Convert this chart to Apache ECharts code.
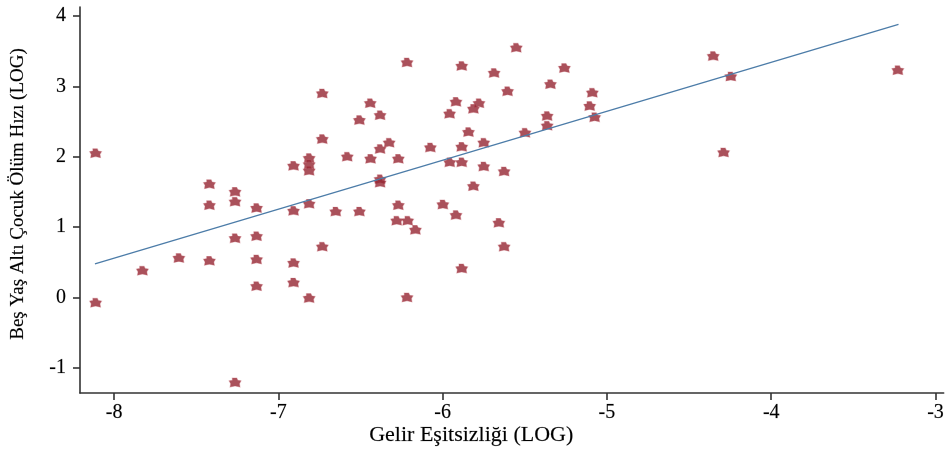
<!DOCTYPE html>
<html>
<head>
<meta charset="utf-8">
<script src="https://cdn.jsdelivr.net/npm/echarts@6/dist/echarts.min.js"></script>
<style>
html,body{margin:0;padding:0;background:#fff;}
#chart{width:947px;height:451px;}
</style>
</head>
<body>
<div id="chart"></div>
<script>
// Gelir Eşitsizliği (LOG)
const incomeInequality = [
  -8.113, -8.113, -7.828, -7.606, -7.420, -7.420, -7.420, -7.264, -7.264, -7.264,
  -7.264, -7.133, -7.133, -7.133, -7.133, -6.908, -6.908, -6.908, -6.908, -6.813,
  -6.813, -6.813, -6.813, -6.813, -6.733, -6.733, -6.733, -6.651, -6.581, -6.507,
  -6.507, -6.441, -6.439, -6.381, -6.381, -6.381, -6.381, -6.326, -6.270, -6.270,
  -6.280, -6.217, -6.213, -6.217, -6.166, -6.075, -5.999, -5.958, -5.957, -5.919,
  -5.919, -5.884, -5.884, -5.884, -5.884, -5.843, -5.813, -5.813, -5.779, -5.750,
  -5.750, -5.687, -5.658, -5.626, -5.626, -5.605, -5.552, -5.499, -5.364, -5.364,
  -5.344, -5.259, -5.105, -5.089, -5.075, -4.353, -4.290, -4.246, -3.229
];
// Beş Yaş Altı Çocuk Ölüm Hızı (LOG)
const childMortality = [
  2.05, -0.075, 0.38, 0.56, 1.61, 1.31, 0.52, 1.50, 1.36, 0.84,
  -1.21, 1.27, 0.87, 0.54, 0.16, 1.87, 1.23, 0.49, 0.21, 1.98,
  1.89, 1.80, 1.33, -0.01, 2.90, 2.25, 0.72, 1.22, 2.00, 2.52,
  1.22, 2.76, 1.97, 2.59, 2.11, 1.68, 1.63, 2.20, 1.97, 1.31,
  1.09, 3.34, 1.09, 0.00, 0.96, 2.13, 1.32, 2.61, 1.92, 2.78,
  1.17, 3.29, 2.14, 1.92, 0.41, 2.35, 2.68, 1.58, 2.76, 2.20,
  1.86, 3.19, 1.06, 1.79, 0.72, 2.93, 3.55, 2.34, 2.58, 2.44,
  3.03, 3.26, 2.72, 2.91, 2.56, 3.43, 2.06, 3.14, 3.23
];
// Fitted line end points
const fitX = [-8.117, -3.225];
const fitY = [0.475, 3.88];
// Tick labels
const xTicks = [-8, -7, -6, -5, -4, -3];
const yTicks = [-1, 0, 1, 2, 3, 4];
const xTitle = 'Gelir Eşitsizliği (LOG)';
const yTitle = 'Beş Yaş Altı Çocuk Ölüm Hızı (LOG)';

const points = incomeInequality.map((x, i) => [x, childMortality[i]]);
const fitLine = fitX.map((x, i) => [x, fitY[i]]);

const FONT = '"Liberation Serif", "DejaVu Serif", serif';
const chart = echarts.init(document.getElementById('chart'), null, {renderer: 'canvas'});
const axisCommon = {
  axisLine: {show: true, onZero: false, lineStyle: {color: '#333', width: 1.6}},
  axisTick: {show: true, inside: false, length: 7, lineStyle: {color: '#333', width: 1.6}},
  splitLine: {show: false},
  axisLabel: {color: '#000', fontFamily: FONT, fontSize: 20, textBorderColor: 'rgba(0,0,0,0.35)', textBorderWidth: 0.4}
};
chart.setOption({
  animation: false,
  backgroundColor: '#fff',
  grid: {left: 80, right: 0, top: 7, bottom: 58, containLabel: false},
  xAxis: {
    type: 'value', min: -8.208, max: -2.95,
    ...axisCommon,
    axisTick: {...axisCommon.axisTick, customValues: xTicks},
    axisLabel: {...axisCommon.axisLabel, customValues: xTicks, margin: 10}
  },
  yAxis: {
    type: 'value', min: -1.359, max: 4.128,
    ...axisCommon,
    axisTick: {...axisCommon.axisTick, customValues: yTicks},
    axisLabel: {...axisCommon.axisLabel, customValues: yTicks, margin: 14}
  },
  graphic: [
    {type: 'text', left: 369, top: 424,
     style: {text: xTitle, font: '22px ' + FONT, fill: '#000', stroke: 'rgba(0,0,0,0.35)', lineWidth: 0.4}},
    {type: 'text', x: 18, y: 194, rotation: Math.PI / 2,
     style: {text: yTitle, font: '19px ' + FONT, fill: '#000', stroke: 'rgba(0,0,0,0.35)', lineWidth: 0.4,
             align: 'center', verticalAlign: 'middle'}}
  ],
  series: [
    {
      type: 'scatter', data: points,
      symbol: 'path://M3,0 L7,0 L8,2 L11,2.5 L9.5,5 L10,8 L5.5,7 L1,8 L1.5,5 L0,2.5 L3,2 Z',
      symbolSize: [12, 9],
      itemStyle: {color: '#952632', borderColor: 'rgba(190,90,100,0.45)', borderWidth: 1}
    },
    {
      type: 'line', data: fitLine, symbol: 'none',
      lineStyle: {color: '#4c7ca8', width: 1.3}
    }
  ]
});
</script>
</body>
</html>
